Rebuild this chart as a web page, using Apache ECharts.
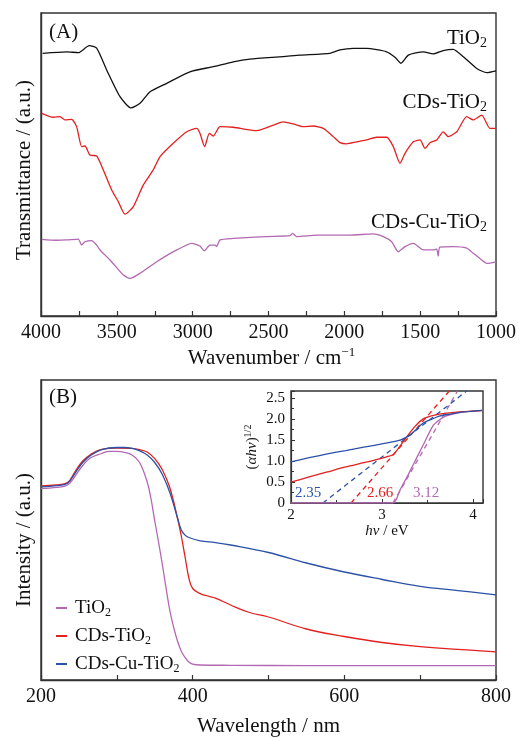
<!DOCTYPE html>
<html>
<head>
<meta charset="utf-8">
<script src="https://cdn.jsdelivr.net/npm/echarts@6/dist/echarts.min.js"></script>
<style>
  html, body { margin: 0; padding: 0; background: #fff; }
  #chart { width: 519px; height: 738px; }
</style>
</head>
<body>
<div id="chart"></div>
<script>
// ---- (A) FTIR spectra: [wavenumber / cm^-1, transmittance (a.u.)] ----
const ftirTiO2 = [
  [3989, 86.7], [3831, 87.2], [3754, 86.9], [3682, 89.2], [3633, 88.4], [3567, 81.2],
  [3479, 72.4], [3407, 68.7], [3347, 70.2], [3281, 74.0], [3171, 76.8], [3018, 80.6],
  [2864, 82.3], [2732, 83.9], [2622, 84.8], [2403, 85.6], [2292, 86.1], [2095, 86.7],
  [2029, 87.8], [1941, 88.3], [1853, 88.3], [1721, 87.2], [1666, 85.4], [1626, 83.4],
  [1578, 86.1], [1479, 87.2], [1414, 86.5], [1348, 87.6], [1282, 88.0], [1216, 85.6],
  [1127, 81.7], [1061, 80.3], [1000, 80.9]
];
const ftirCDsTiO2 = [
  [3995, 66.9], [3919, 65.6], [3875, 65.8], [3842, 64.7], [3798, 64.9], [3765, 62.5],
  [3732, 55.9], [3710, 56.1], [3677, 53.1], [3633, 52.8], [3589, 48.2], [3534, 41.6],
  [3490, 37.7], [3446, 33.6], [3391, 36.1], [3326, 43.2], [3260, 48.2], [3215, 52.6],
  [3128, 57.0], [3039, 60.8], [2973, 61.9], [2952, 60.3], [2921, 55.9], [2890, 60.3],
  [2864, 59.4], [2820, 62.5], [2732, 62.3], [2578, 61.2], [2468, 63.0], [2403, 64.1],
  [2337, 63.4], [2271, 62.5], [2205, 62.7], [2139, 61.9], [2073, 59.2], [2029, 57.2],
  [1985, 56.8], [1919, 57.5], [1853, 58.1], [1787, 59.0], [1721, 59.0], [1677, 55.9],
  [1633, 50.4], [1600, 53.7], [1545, 57.5], [1501, 58.1], [1468, 55.3], [1435, 57.2],
  [1391, 58.1], [1348, 60.8], [1315, 59.2], [1259, 60.8], [1193, 65.8], [1150, 64.7],
  [1094, 66.3], [1040, 61.9], [1000, 61.9]
];
const ftirCDsCuTiO2 = [
  [3995, 25.3], [3900, 25.0], [3831, 25.1], [3754, 25.4], [3732, 23.4], [3710, 24.5],
  [3666, 24.9], [3633, 23.4], [3611, 21.8], [3545, 18.5], [3457, 13.5], [3413, 12.4],
  [3347, 14.1], [3237, 17.9], [3105, 21.8], [3006, 24.0], [2952, 23.1], [2923, 21.5],
  [2886, 23.4], [2853, 23.4], [2842, 22.9], [2820, 25.1], [2732, 25.6], [2512, 26.2],
  [2358, 26.5], [2341, 27.3], [2314, 26.2], [2182, 26.7], [1963, 26.7], [1809, 27.1],
  [1743, 26.2], [1688, 24.5], [1644, 21.2], [1600, 22.9], [1545, 24.0], [1479, 21.8],
  [1414, 21.8], [1391, 22.1], [1381, 19.8], [1370, 22.7], [1282, 22.9], [1193, 22.4],
  [1150, 20.7], [1106, 19.0], [1061, 17.4], [1000, 17.9]
];

// ---- (B) UV-vis diffuse reflectance: [wavelength / nm, intensity (a.u.)] ----
const uvTiO2 = [
  [200, 63.8], [220, 64.2], [235, 65.0], [245, 68.0], [255, 71.5], [265, 74.0],
  [280, 75.5], [290, 76.2], [300, 76.2], [310, 75.9], [320, 75.0], [330, 72.5],
  [340, 66.0], [345, 60.5], [350, 53.0], [355, 46.0], [360, 38.5], [365, 30.5],
  [370, 23.0], [375, 17.5], [380, 13.0], [385, 9.6], [390, 7.5], [395, 6.0],
  [400, 5.3], [410, 5.0], [450, 4.9], [550, 4.8], [650, 4.8], [800, 4.8]
];
const uvCDsTiO2 = [
  [200, 64.7], [220, 65.0], [235, 65.8], [245, 69.5], [255, 73.0], [265, 75.1],
  [280, 76.9], [300, 77.3], [320, 77.2], [330, 76.8], [340, 76.0], [350, 73.8],
  [360, 70.1], [370, 64.0], [380, 54.0], [385, 48.0], [390, 41.0], [395, 34.0],
  [400, 30.5], [410, 28.8], [420, 28.0], [430, 27.3], [450, 25.0], [475, 22.5],
  [500, 21.0], [550, 17.0], [600, 14.5], [650, 12.5], [700, 11.1], [750, 10.2], [800, 9.4]
];
const uvCDsCuTiO2 = [
  [200, 64.4], [220, 64.8], [235, 65.6], [245, 69.0], [255, 72.5], [265, 74.8],
  [280, 76.8], [300, 77.5], [310, 77.5], [320, 77.2], [330, 76.4], [340, 75.0],
  [350, 72.5], [360, 68.5], [370, 62.4], [380, 54.0], [385, 50.0], [390, 48.3],
  [395, 47.5], [410, 46.4], [430, 45.8], [450, 45.0], [500, 42.5], [550, 39.0],
  [600, 36.0], [650, 33.5], [700, 31.2], [750, 29.8], [800, 28.4]
];

// ---- Inset: Tauc plot, [hv / eV, (alpha hv)^(1/2)] ----
const taucTiO2 = [
  [2.0, 0], [3.12, 0], [3.2, 0.32], [3.28, 0.64], [3.34, 0.90], [3.45, 1.37],
  [3.56, 1.84], [3.63, 1.98], [3.70, 2.07], [3.8, 2.13], [3.9, 2.17], [4.1, 2.21]
];
const taucCDsTiO2 = [
  [2.0, 0.50], [2.2, 0.62], [2.4, 0.74], [2.6, 0.86], [2.8, 0.96], [2.97, 1.05],
  [3.05, 1.10], [3.12, 1.15], [3.19, 1.33], [3.28, 1.60], [3.36, 1.82], [3.45, 2.0],
  [3.55, 2.08], [3.63, 2.12], [3.8, 2.16], [4.1, 2.20]
];
const taucCDsCuTiO2 = [
  [2.0, 0.98], [2.2, 1.08], [2.4, 1.17], [2.6, 1.25], [2.8, 1.33], [3.0, 1.41],
  [3.1, 1.45], [3.2, 1.50], [3.27, 1.57], [3.35, 1.70], [3.45, 1.90], [3.55, 2.0],
  [3.63, 2.07], [3.75, 2.12], [3.9, 2.17], [4.1, 2.21]
];
// band-gap intercepts and upper ends of the tangent lines (TiO2, CDs-TiO2, CDs-Cu-TiO2)
const bandGaps = [3.12, 2.66, 2.35];
const tangentEnds = [[3.83, 2.67], [3.74, 2.67], [3.93, 2.67]];

const sampleNames = ['TiO2', 'CDs-TiO2', 'CDs-Cu-TiO2'];
const colors = ['#b268b2', '#e3201f', '#2b52a6'];
const ftirColors = ['#111111', '#e3201f', '#b268b2'];

const SERIF = '"Liberation Serif", "DejaVu Serif", serif';
const withSub = name => name.replace(/2$/, '{s|2}');

const chart = echarts.init(document.getElementById('chart'), null, { renderer: 'canvas' });

function lineSeries(name, data, color, idx, extra) {
  return Object.assign({
    type: 'line', name: name, data: data,
    xAxisIndex: idx, yAxisIndex: idx,
    showSymbol: false, symbol: 'none', smooth: 0.3,
    lineStyle: { color: color, width: 1.3 },
    itemStyle: { color: color },
    animation: false, z: 3
  }, extra || {});
}

const frame = { show: true, borderColor: '#333', borderWidth: 1.4, backgroundColor: 'transparent' };

const ftirSets = [ftirTiO2, ftirCDsTiO2, ftirCDsCuTiO2];
const uvSets = [uvTiO2, uvCDsTiO2, uvCDsCuTiO2];
const taucSets = [taucTiO2, taucCDsTiO2, taucCDsCuTiO2];

const series = [];
ftirSets.forEach((d, i) => series.push(lineSeries('FTIR ' + sampleNames[i], d, ftirColors[i], 0, { smooth: 0.2 })));
uvSets.forEach((d, i) => series.push(lineSeries(sampleNames[i], d, colors[i], 1, { smooth: 0.4 })));
taucSets.forEach((d, i) => series.push(lineSeries('Tauc ' + sampleNames[i], d, colors[i], 2, { smooth: 0.25 })));
bandGaps.forEach((g, i) => series.push(lineSeries('Tangent ' + sampleNames[i],
  [[g, 0], tangentEnds[i]], colors[i], 2,
  { smooth: false, lineStyle: { color: colors[i], width: 1.3, type: [5, 4] }, z: 2 })));

const axisLabelStyle = { fontFamily: SERIF, fontSize: 20, color: '#111', formatter: v => String(v) };
const insetLabelStyle = { fontFamily: SERIF, fontSize: 15, color: '#111' };

// rotated axis titles of the two main panels
function sideTitle(text, y) {
  return {
    type: 'text', x: 24, y: y, rotation: Math.PI / 2,
    style: { text: text, fontFamily: SERIF, fontSize: 21, fill: '#111', align: 'center', verticalAlign: 'middle' }
  };
}

const option = {
  backgroundColor: '#fff',
  animation: false,
  grid: [
    Object.assign({ left: 41, top: 13, width: 455, height: 303 }, frame),
    Object.assign({ left: 41, top: 380, width: 455, height: 301 }, frame),
    Object.assign({ left: 291, top: 391, width: 192, height: 112 }, frame, { backgroundColor: '#fff' })
  ],
  xAxis: [
    {
      gridIndex: 0, type: 'value', inverse: true, min: 1000, max: 4000, interval: 500,
      axisLine: { show: true, lineStyle: { color: '#333', width: 1.4 } },
      axisTick: { show: true, inside: true, length: 5, lineStyle: { color: '#333', width: 1.2 } },
      minorTick: { show: true, splitNumber: 2, length: 5, lineStyle: { color: '#333', width: 1.2 } },
      splitLine: { show: false },
      axisLabel: Object.assign({ margin: 7 }, axisLabelStyle),
      name: 'Wavenumber / cm{sup|\u22121}', nameLocation: 'middle', nameGap: 30,
      nameTextStyle: {
        fontFamily: SERIF, fontSize: 21, color: '#111', lineHeight: 24, padding: [0, 0, 0, 6],
        rich: { sup: { fontSize: 13, lineHeight: 12, verticalAlign: 'top', fontFamily: SERIF } }
      }
    },
    {
      gridIndex: 1, type: 'value', min: 200, max: 800, interval: 200,
      axisLine: { show: true, lineStyle: { color: '#333', width: 1.4 } },
      axisTick: { show: true, inside: true, length: 5, lineStyle: { color: '#333', width: 1.2 } },
      minorTick: { show: true, splitNumber: 2, length: 5, lineStyle: { color: '#333', width: 1.2 } },
      splitLine: { show: false },
      axisLabel: Object.assign({ margin: 7 }, axisLabelStyle),
      name: 'Wavelength / nm', nameLocation: 'middle', nameGap: 36,
      nameTextStyle: { fontFamily: SERIF, fontSize: 21, color: '#111' }
    },
    {
      gridIndex: 2, type: 'value', min: 2, max: 4.11, interval: 1,
      axisLine: { show: true, lineStyle: { color: '#333', width: 1.2 } },
      axisTick: { show: true, inside: true, length: 4, lineStyle: { color: '#333', width: 1 } },
      minorTick: { show: true, splitNumber: 2, length: 3, lineStyle: { color: '#333', width: 1 } },
      splitLine: { show: false },
      axisLabel: Object.assign({ margin: 5, showMaxLabel: false }, insetLabelStyle),
      name: '{i|h\u03bd} / eV', nameLocation: 'middle', nameGap: 20,
      nameTextStyle: {
        fontFamily: SERIF, fontSize: 15, color: '#111',
        rich: { i: { fontStyle: 'italic', fontFamily: SERIF, fontSize: 15 } }
      }
    }
  ],
  yAxis: [
    {
      gridIndex: 0, type: 'value', min: 0, max: 100,
      axisLine: { show: true, lineStyle: { color: '#333', width: 1.4 } },
      axisTick: { show: false }, axisLabel: { show: false }, splitLine: { show: false }
    },
    {
      gridIndex: 1, type: 'value', min: 0, max: 100,
      axisLine: { show: true, lineStyle: { color: '#333', width: 1.4 } },
      axisTick: { show: false }, axisLabel: { show: false }, splitLine: { show: false }
    },
    {
      gridIndex: 2, type: 'value', min: 0, max: 2.67, interval: 0.5,
      axisLine: { show: true, lineStyle: { color: '#333', width: 1.2 } },
      axisTick: { show: true, inside: true, length: 4, lineStyle: { color: '#333', width: 1 } },
      minorTick: { show: true, splitNumber: 2, length: 3, lineStyle: { color: '#333', width: 1 } },
      splitLine: { show: false },
      axisLabel: Object.assign({
        margin: 6, showMaxLabel: false,
        formatter: v => (v === 0 ? '0' : v.toFixed(1))
      }, insetLabelStyle),
      name: '({i|\u03b1h\u03bd}){sup|1/2}', nameLocation: 'middle', nameRotate: 90, nameGap: 30,
      nameTextStyle: {
        fontFamily: SERIF, fontSize: 15, color: '#111', lineHeight: 18,
        rich: {
          i: { fontStyle: 'italic', fontFamily: SERIF, fontSize: 15, lineHeight: 18 },
          sup: { fontSize: 10, lineHeight: 10, verticalAlign: 'top', fontFamily: SERIF }
        }
      }
    }
  ],
  legend: {
    data: sampleNames,
    orient: 'vertical', left: 50, top: 592,
    itemWidth: 11, itemHeight: 2, itemGap: 6,
    formatter: n => withSub(n),
    textStyle: {
      fontFamily: SERIF, fontSize: 19, color: '#111', lineHeight: 22, padding: [0, 0, 0, 3],
      rich: { s: { fontSize: 12, lineHeight: 9, verticalAlign: 'bottom', fontFamily: SERIF } }
    },
    selectedMode: false
  },
  graphic: [
    { type: 'text', x: 49, y: 32, style: { text: '(A)', fontFamily: SERIF, fontSize: 21, fill: '#111', verticalAlign: 'middle' } },
    { type: 'text', x: 49, y: 397, style: { text: '(B)', fontFamily: SERIF, fontSize: 21, fill: '#111', verticalAlign: 'middle' } },
    sideTitle('Transmittance / (a.u.)', 170),
    sideTitle('Intensity / (a.u.)', 540)
  ].concat(
    sampleNames.map((n, i) => ({
      type: 'text', x: 487, y: [38, 102, 222][i],
      style: {
        text: withSub(n), fontFamily: SERIF, fontSize: 21, lineHeight: 24, fill: '#111',
        align: 'right', verticalAlign: 'middle',
        rich: { s: { fontSize: 14, lineHeight: 10, verticalAlign: 'bottom', fontFamily: SERIF, fill: '#111' } }
      }
    })),
    bandGaps.map((g, i) => ({
      type: 'text', x: [413, 367, 295][i], y: 493, z: 10,
      style: {
        text: g.toFixed(2), fontFamily: SERIF, fontSize: 15, fill: colors[i],
        verticalAlign: 'middle'
      }
    }))
  ),
  series: series
};

chart.setOption(option);
</script>
</body>
</html>
